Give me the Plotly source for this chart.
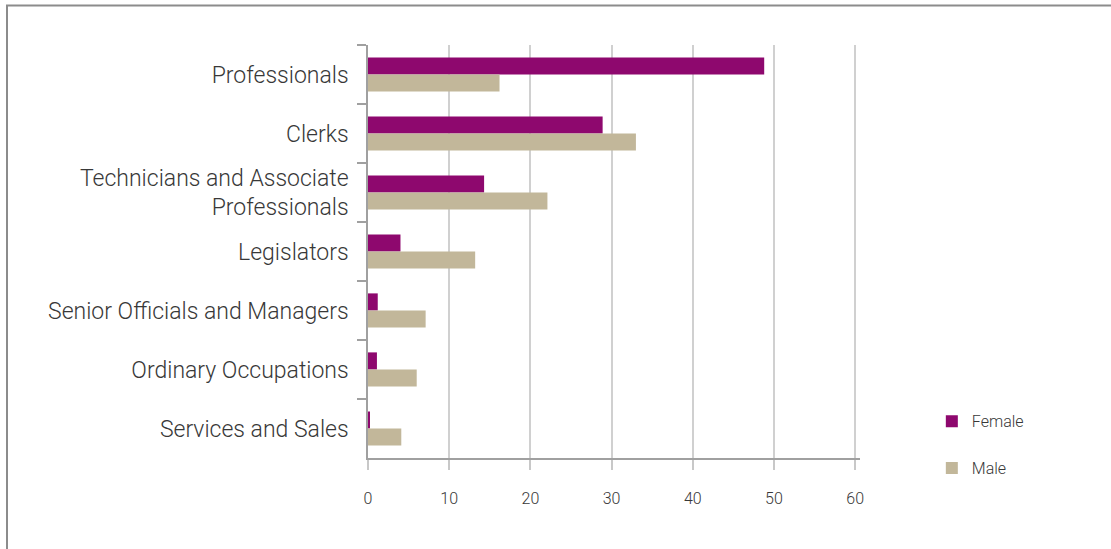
import plotly.graph_objects as go

# Occupational categories, top to bottom
categories = [
    "Professionals",
    "Clerks",
    "Technicians and Associate<br>Professionals",
    "Legislators",
    "Senior Officials and Managers",
    "Ordinary Occupations",
    "Services and Sales",
]
female = [48.8, 28.9, 14.3, 4.0, 1.2, 1.1, 0.2]
male = [16.2, 33.0, 22.1, 13.2, 7.1, 6.0, 4.1]
x_ticks = [0, 10, 20, 30, 40, 50, 60]

FEMALE_COLOR = "#8E086E"
MALE_COLOR = "#C2B79A"
TEXT_COLOR = "#383838"
FONT = "Roboto"

fig = go.Figure()
fig.add_trace(go.Bar(
    y=categories, x=female, orientation="h", name="Female",
    marker=dict(color=FEMALE_COLOR, line=dict(width=0)),
    legendgroup="f",
))
fig.add_trace(go.Bar(
    y=categories, x=male, orientation="h", name="Male",
    marker=dict(color=MALE_COLOR, line=dict(width=0)),
    legendgroup="m",
))

fig.update_layout(
    width=1111, height=549,
    margin=dict(l=368, r=251, t=45, b=91),
    paper_bgcolor="white", plot_bgcolor="white",
    font=dict(family=FONT, color=TEXT_COLOR, size=16, weight=300),
    barmode="group", bargap=0.42, bargroupgap=0,
    legend=dict(
        x=1.146, y=0.130, xanchor="left", yanchor="top",
        font=dict(size=16, family=FONT, color=TEXT_COLOR, weight=300),
        traceorder="grouped", tracegroupgap=23,
        bgcolor="rgba(0,0,0,0)",
    ),
    xaxis=dict(
        range=[0, 60.6], tickvals=x_ticks, ticktext=[str(v) for v in x_ticks],
        showgrid=True, gridcolor="#d0d0d0", gridwidth=1.5,
        showline=True, linecolor="#a0a0a0", linewidth=1.5,
        ticks="outside", ticklen=10, tickcolor="#c8c8c8", tickwidth=1.5,
        ticklabelstandoff=15,
        tickfont=dict(size=16, family=FONT, color=TEXT_COLOR, weight=300),
        zeroline=False,
    ),
    yaxis=dict(
        autorange="reversed",
        showgrid=False, showline=True, linecolor="#a0a0a0", linewidth=1.5,
        ticks="outside", tickson="boundaries", ticklen=9,
        tickcolor="#a0a0a0", tickwidth=1.5,
        ticklabelstandoff=13,
        tickfont=dict(size=23, family=FONT, color=TEXT_COLOR, weight=300),
    ),
    shapes=[dict(
        type="rect", xref="paper", yref="paper",
        x0=(7 - 368) / 492, x1=(1125 - 368) / 492,
        y0=(458 - 560) / 413, y1=(458 - 5.5) / 413,
        line=dict(color="#8c8c8c", width=2), fillcolor="rgba(0,0,0,0)",
        layer="below",
    )],
)

fig.write_html("out.html")
